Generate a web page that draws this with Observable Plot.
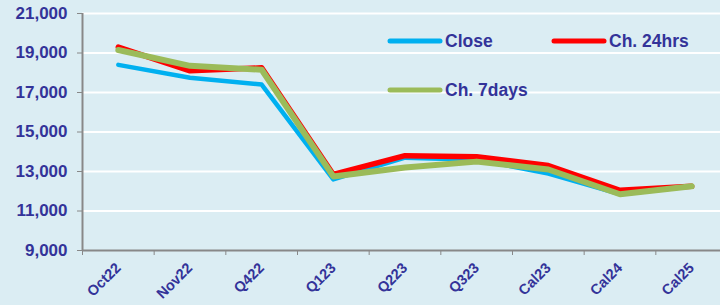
<!DOCTYPE html>
<html>
<head>
<meta charset="utf-8">
<script src="https://cdn.jsdelivr.net/npm/d3@7"></script>
<script src="https://cdn.jsdelivr.net/npm/@observablehq/plot@0.6"></script>
<style>
  html, body { margin: 0; padding: 0; background: #dbedf3; overflow: hidden; width: 720px; height: 305px; }
  #chart { position: relative; width: 720px; height: 305px; overflow: hidden; }
  #chart svg { position: absolute; left: 0; top: 0; max-width: none !important; }
</style>
</head>
<body>
<div id="chart"></div>
<script>
const categories = ["Oct22","Nov22","Q422","Q123","Q223","Q323","Cal23","Cal24","Cal25"];
const closeVals = [18400, 17750, 17400, 12600, 13700, 13600, 12900, 11850, 12250];
const ch24Vals  = [19300, 18100, 18250, 12850, 13800, 13750, 13300, 12050, 12250];
const ch7Vals   = [19150, 18350, 18150, 12750, 13200, 13500, 13100, 11850, 12250];
const seriesNames = ["Close", "Ch. 24hrs", "Ch. 7days"];
const seriesColors = ["#00b0f0", "#ff0000", "#9bbb59"];
const yTicks = [9000, 11000, 13000, 15000, 17000, 19000, 21000];

const idx = categories.map((_, i) => i);
const boundaries = d3.range(categories.length + 1).map(i => i - 0.5);
const mk = vals => vals.map((v, i) => ({i, v}));
const textColor = "#333399";

const plot = Plot.plot({
  width: 735,
  height: 305,
  marginLeft: 82,
  marginRight: 8,
  marginTop: 13,
  marginBottom: 55,
  style: {background: "#dbedf3", fontFamily: "'Liberation Sans', Arial, sans-serif", fontWeight: "bold", overflow: "visible", maxWidth: "none"},
  x: {type: "linear", domain: [-0.5, categories.length - 0.5]},
  y: {domain: [9000, 21000]},
  marks: [
    Plot.gridY(yTicks.slice(1), {stroke: "#ffffff", strokeOpacity: 1, strokeWidth: 2}),
    Plot.ruleY([9000], {stroke: "#888888", strokeWidth: 2}),
    Plot.ruleX([-0.5], {stroke: "#888888", strokeWidth: 2}),
    Plot.axisY({ticks: yTicks, tickSize: 5, tickPadding: 10, stroke: "#888888", fill: textColor, tickFormat: d3.format(","), label: null}),
    Plot.axisX({ticks: boundaries, tickSize: 5, stroke: "#888888", tickFormat: () => "", label: null}),
    Plot.axisX({ticks: idx, tickSize: 0, tickPadding: 10, tickRotate: -45, fill: textColor, tickFormat: i => categories[i], label: null}),
    Plot.line(mk(closeVals), {x: "i", y: "v", stroke: seriesColors[0], strokeWidth: 4.5, strokeLinejoin: "round", strokeLinecap: "round"}),
    Plot.line(mk(ch24Vals), {x: "i", y: "v", stroke: seriesColors[1], strokeWidth: 5.5, strokeLinejoin: "round", strokeLinecap: "round"}),
    Plot.line(mk(ch7Vals), {x: "i", y: "v", stroke: seriesColors[2], strokeWidth: 6, strokeLinejoin: "round", strokeLinecap: "round"})
  ]
});
document.getElementById("chart").appendChild(plot);

const svg = d3.select(plot);
// Axis label styling
svg.selectAll("g[aria-label='y-axis tick label'] text")
  .style("font-size", "17px").style("font-weight", "bold");
svg.selectAll("g[aria-label='x-axis tick label']")
  .filter(function() { return d3.select(this).selectAll("text").filter(function() { return this.textContent !== ""; }).size() > 0; })
  .attr("transform", function() { return (this.getAttribute("transform") || "") + " translate(0,5)"; })
  .selectAll("text").style("font-size", "14.5px").style("font-weight", "bold");

// Legend (inside plot area, as in the reference)
const legendPos = [[388, 41], [552, 41], [388, 90]];
const lg = svg.append("g").attr("text-anchor", "start");
seriesNames.forEach((name, k) => {
  const [lx, ly] = legendPos[k];
  lg.append("line").attr("x1", lx + 2).attr("x2", lx + 52).attr("y1", ly).attr("y2", ly)
    .attr("stroke", seriesColors[k]).attr("stroke-width", 5).attr("stroke-linecap", "round");
  lg.append("text").attr("x", lx + 57).attr("y", ly + 6).text(name)
    .attr("fill", textColor).attr("font-size", 17.5).attr("font-weight", "bold")
    .attr("text-anchor", "start")
    .attr("font-family", "'Liberation Sans', Arial, sans-serif");
});
</script>
</body>
</html>
